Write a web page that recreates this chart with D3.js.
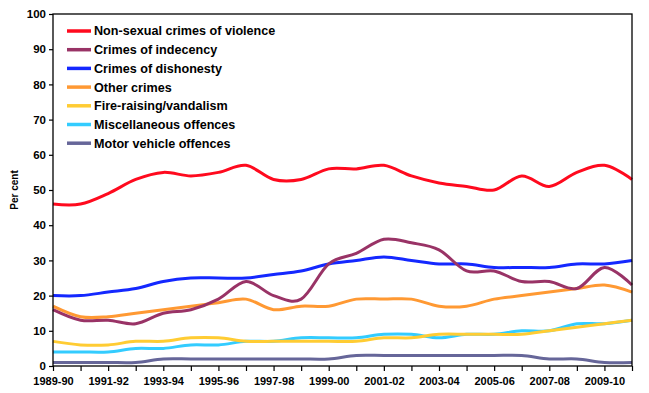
<!DOCTYPE html>
<html><head><meta charset="utf-8">
<script src="https://cdn.jsdelivr.net/npm/d3@7"></script>
<style>body{margin:0;background:#fff}svg{display:block}text{font-family:Arial,"Liberation Sans",sans-serif;font-weight:bold;fill:#000}</style>
</head><body><svg id="c" width="649" height="393"></svg>
<script>
const years = ["1989-90","1990-91","1991-92","1992-93","1993-94","1994-95","1995-96","1996-97","1997-98","1998-99","1999-00","2000-01","2001-02","2002-03","2003-04","2004-05","2005-06","2006-07","2007-08","2008-09","2009-10","2010-11"];
const yTicks = [0,10,20,30,40,50,60,70,80,90,100];
const violence   = [46,46,49,53,55,54,55,57,53,53,56,56,57,54,52,51,50,54,51,55,57,53];
const indecency  = [16,13,13,12,15,16,19,24,20,19,29,32,36,35,33,27,27,24,24,22,28,23];
const dishonesty = [20,20,21,22,24,25,25,25,26,27,29,30,31,30,29,29,28,28,28,29,29,30];
const other      = [17,14,14,15,16,17,18,19,16,17,17,19,19,19,17,17,19,20,21,22,23,21];
const fire       = [7,6,6,7,7,8,8,7,7,7,7,7,8,8,9,9,9,9,10,11,12,13];
const misc       = [4,4,4,5,5,6,6,7,7,8,8,8,9,9,8,9,9,10,10,12,12,13];
const motor      = [1,1,1,1,2,2,2,2,2,2,2,3,3,3,3,3,3,3,2,2,1,1];
const seriesNames = ["Non-sexual crimes of violence","Crimes of indecency","Crimes of dishonesty","Other crimes","Fire-raising/vandalism","Miscellaneous offences","Motor vehicle offences"];
const seriesColors = ["#ff0a1e","#993366","#1428ff","#ff9933","#ffcc33","#33ccff","#666699"];
const seriesData = [violence,indecency,dishonesty,other,fire,misc,motor];

const svg = d3.select("#c");
const L=53,R=632,T=14,B=366;
const x = d3.scalePoint().domain(years).range([L,R]);
const y = d3.scaleLinear().domain([0,100]).range([B,T]);

const line = d3.line().x((d,i)=>x(years[i])).y(d=>y(d)).curve(d3.curveCatmullRom.alpha(0));
const order=[6,5,4,3,2,1,0];
order.forEach(k=>{
  svg.append("path").attr("d",line(seriesData[k])).attr("fill","none")
    .attr("stroke",seriesColors[k]).attr("stroke-width",3).attr("stroke-linejoin","round");
});

svg.append("rect").attr("x",L).attr("y",T).attr("width",R-L).attr("height",B-T)
  .attr("fill","none").attr("stroke","#000").attr("stroke-width",1.3);

const ya = svg.append("g").attr("transform",`translate(${L},0)`)
  .call(d3.axisLeft(y).tickValues(yTicks).tickSize(4).tickPadding(3));
ya.select(".domain").remove();
ya.selectAll("line").attr("stroke","#000").attr("stroke-width",1.2);
ya.selectAll("text").style("font-size","11.5px").style("font-family","Arial,'Liberation Sans',sans-serif").style("font-weight","bold");

const xa = svg.append("g").attr("transform",`translate(0,${B})`)
  .call(d3.axisBottom(x).tickSize(5).tickPadding(6).tickFormat((d,i)=>i%2===0&&i<21?d:""));
xa.select(".domain").remove();
xa.selectAll("line").attr("stroke","#000").attr("stroke-width",1.2);
xa.selectAll("text").style("font-size","11px").style("font-family","Arial,'Liberation Sans',sans-serif").style("font-weight","bold");

svg.append("text").attr("transform","translate(18,190) rotate(-90)").attr("text-anchor","middle")
  .style("font-size","10px").text("Per cent");

const lg = svg.append("g");
seriesNames.forEach((n,i)=>{
  const yy = 31 + i*18.7;
  lg.append("line").attr("x1",67).attr("x2",91).attr("y1",yy).attr("y2",yy)
    .attr("stroke",seriesColors[i]).attr("stroke-width",3.5);
  lg.append("text").attr("x",94).attr("y",yy).attr("dy","0.35em").style("font-size","12.6px").text(n);
});
</script></body></html>
